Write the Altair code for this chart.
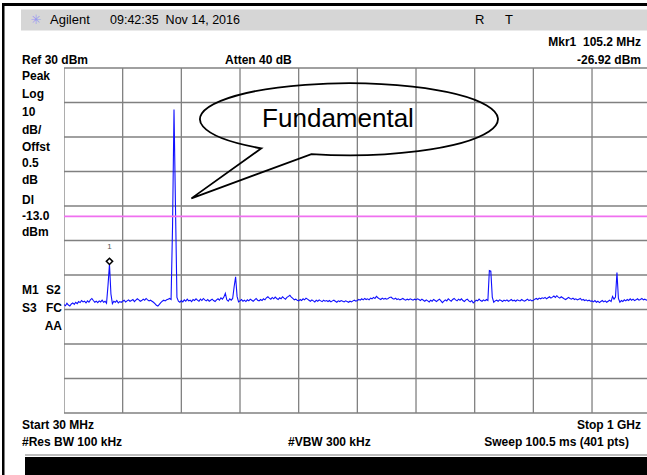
import altair as alt
import pandas as pd

# ---------------- data ----------------
START_MHZ = 30.0
STOP_MHZ = 1000.0
N_PTS = 401

trace_dbm = [
    # i0-19
    -38.6, -38.9, -38.2, -38.7, -39.0, -38.4, -38.1, -38.5, -37.9, -38.3,
    -37.7, -38.0, -37.4, -37.8, -37.6, -38.1, -37.5, -37.9, -37.2, -36.8,
    # i20-39 (marker 1 at i31)
    -37.4, -37.9, -37.6, -38.0, -37.5, -37.8, -37.3, -37.9, -37.6, -38.2,
    -33.0, -26.92, -35.5, -38.3, -37.6, -37.9, -37.4, -38.1, -37.7, -37.9,
    # i40-59
    -37.6, -37.3, -37.8, -37.5, -37.2, -37.6, -37.4, -37.1, -37.7, -37.3,
    -36.9, -37.2, -37.6, -37.4, -37.0, -37.3, -36.8, -37.2, -37.5, -37.3,
    # i60-79 (fundamental at i75)
    -37.6, -37.9, -38.3, -38.8, -39.0, -38.5, -38.0, -37.6, -37.3, -37.5,
    -37.2, -37.0, -36.8, -37.1, -16.0, 18.0, -10.0, -36.5, -37.6, -37.9,
    # i80-99
    -37.4, -37.8, -37.2, -37.6, -37.0, -37.5, -37.3, -37.7, -37.1, -37.4,
    -36.9, -37.3, -37.6, -37.0, -37.4, -36.8, -37.2, -37.5, -37.1, -37.6,
    # i100-119 (spur at i117)
    -37.3, -37.0, -37.4, -37.7, -37.2, -36.9, -37.3, -36.6, -37.0, -36.4,
    -35.3, -37.2, -37.6, -36.9, -37.3, -36.8, -33.4, -30.5, -36.2, -37.8,
    # i120-139
    -37.5, -37.1, -37.6, -37.3, -37.7, -37.2, -37.5, -37.0, -37.3, -37.6,
    -37.2, -36.8, -37.3, -37.5, -37.1, -37.4, -36.9, -37.2, -36.6, -36.3,
    # i140-159
    -36.7, -37.0, -36.5, -36.9, -36.4, -36.8, -37.1, -36.6, -36.9, -36.3,
    -36.7, -37.0, -36.5, -36.2, -35.9, -36.4, -36.8, -37.2, -37.0, -37.3,
    # i160-179
    -37.5, -37.1, -37.4, -36.9, -37.2, -36.7, -37.0, -37.3, -37.6, -37.2,
    -37.5, -37.8, -37.3, -37.6, -37.2, -37.5, -37.7, -37.3, -37.6, -37.4,
    # i180-199
    -37.7, -37.4, -37.8, -37.5, -37.3, -37.6, -37.9, -37.5, -37.7, -37.4,
    -37.6, -37.8, -37.5, -37.7, -37.9, -37.6, -37.8, -37.5, -37.3, -37.6,
    # i200-219
    -37.4, -37.1, -37.3, -36.9, -37.2, -36.8, -37.1, -36.9, -37.2, -36.7,
    -36.9, -36.5, -36.8, -36.2, -36.6, -36.9, -37.1, -36.7, -37.0, -36.8,
    # i220-239
    -37.0, -36.8, -36.5, -36.4, -36.8, -37.0, -36.7, -37.1, -36.9, -37.2,
    -37.0, -36.8, -37.1, -37.3, -37.0, -37.2, -36.9, -37.1, -37.3, -37.0,
    # i240-259
    -37.2, -36.9, -37.1, -37.4, -37.0, -37.3, -37.6, -37.2, -37.5, -37.8,
    -37.3, -37.6, -37.1, -37.4, -37.7, -37.3, -37.0, -37.5, -38.0, -37.6,
    # i260-279
    -37.2, -37.5, -36.9, -37.3, -37.6, -37.1, -36.8, -37.2, -37.5, -37.0,
    -37.3, -36.9, -37.4, -37.7, -37.2, -37.0, -37.5, -37.8, -37.4, -38.1,
    # i280-299 (spur at i290-291)
    -37.7, -37.3, -37.5, -37.0, -37.4, -37.6, -37.2, -37.5, -37.1, -37.4,
    -28.7, -28.9, -36.4, -37.9, -37.5, -37.3, -37.6, -37.2, -37.4, -37.7,
    # i300-319
    -37.3, -37.5, -37.2, -37.6, -37.4, -37.1, -37.5, -37.3, -37.6, -37.2,
    -37.4, -37.5, -37.1, -37.4, -37.6, -37.3, -37.0, -37.4, -37.2, -37.5,
    # i320-339
    -37.3, -37.0, -36.8, -37.1, -36.7, -36.9, -36.6, -36.8, -36.5, -36.9,
    -36.6, -36.3, -36.7, -36.4, -36.1, -36.5, -36.0, -36.4, -36.7, -36.3,
    # i340-359
    -36.6, -36.9, -37.1, -36.8, -36.5, -36.8, -37.0, -36.7, -37.1, -36.9,
    -37.2, -37.0, -36.8, -37.3, -37.1, -37.4, -37.2, -37.5, -37.3, -37.6,
    # i360-379 (spur at i377)
    -37.5, -37.8, -37.4, -37.9, -37.6, -38.0, -37.7, -37.4, -37.8, -37.5,
    -37.9, -37.6, -37.3, -37.7, -36.2, -37.0, -36.4, -29.3, -36.8, -37.9,
    # i380-400
    -37.4, -37.7, -37.2, -37.5, -37.1, -37.4, -36.9, -37.3, -37.0, -37.4,
    -37.2, -36.9, -37.3, -37.1, -36.8, -37.2, -37.0, -37.3, -37.1, -37.4,
    -37.2,
]

freq_ticks = [30, 127, 224, 321, 418, 515, 612, 709, 806, 903, 1000]
level_ticks = [30, 20, 10, 0, -10, -20, -30, -40, -50, -60, -70]
marker_freq = [105.2]
marker_level = [-26.92]
display_line = [-13.0]
callout_text = ["Fundamental"]
callout_at = [504.0, 15.2]      # centre of the speech balloon (MHz, dBm)
callout_text_at = [483.0, 13.0]

# ---------------- layout ----------------
PL, PT = 64, 68            # plot area origin in the page
W, H = 583, 345            # plot area size (right edge cropped like the screenshot)
X_VIEW_MAX = 993.9
FONT = "Liberation Sans"
NB = "\u00a0"
GRID = "#808080"

freq_mhz = [START_MHZ + i * (STOP_MHZ - START_MHZ) / (N_PTS - 1) for i in range(N_PTS)]
df = pd.DataFrame({"f": freq_mhz, "dbm": trace_dbm})
one = pd.DataFrame({"a": [0]})

xs = alt.Scale(domain=[START_MHZ, X_VIEW_MAX], nice=False, zero=False)
ys = alt.Scale(domain=[-70, 30], nice=False, zero=False)


def X(field):
    return alt.X(field, scale=xs, axis=None)


def Y(field):
    return alt.Y(field, scale=ys, axis=None)


def label(text, x, y, align="left", size=12, weight="bold", color="black", font=FONT,
          baseline="middle"):
    return alt.Chart(pd.DataFrame({"t": [text]})).mark_text(
        align=align, baseline=baseline, fontSize=size, fontWeight=weight,
        font=font, color=color
    ).encode(text="t:N", x=alt.value(x - PL), y=alt.value(y - PT))


def box(x1, y1, x2, y2, color):
    return alt.Chart(one).mark_rect(color=color).encode(
        x=alt.value(x1 - PL), x2=alt.value(x2 - PL),
        y=alt.value(y1 - PT), y2=alt.value(y2 - PT))


vgrid = alt.Chart(pd.DataFrame({"f": freq_ticks})).mark_rule(
    color=GRID, strokeWidth=1.3, clip=True).encode(x=X("f:Q"))
hgrid = alt.Chart(pd.DataFrame({"v": level_ticks})).mark_rule(
    color=GRID, strokeWidth=1.3, clip=False).encode(y=Y("v:Q"))

trace = alt.Chart(df).mark_line(color="#1010ff", strokeWidth=1.1, clip=True).encode(
    x=X("f:Q"), y=Y("dbm:Q"))

dl = alt.Chart(pd.DataFrame({"v": display_line})).mark_rule(
    color="#f070f0", strokeWidth=1.6).encode(y=Y("v:Q"))

mk = alt.Chart(pd.DataFrame({"f": marker_freq, "v": marker_level})).mark_point(
    shape="diamond", filled=True, fill="white", stroke="black", strokeWidth=1.5,
    size=40, opacity=1, yOffset=-3).encode(x=X("f:Q"), y=Y("v:Q"))

mk_lbl = alt.Chart(pd.DataFrame({"f": marker_freq, "v": marker_level, "t": ["1"]})).mark_text(
    fontSize=8, font=FONT, color="#555555", yOffset=-17).encode(
    x=X("f:Q"), y=Y("v:Q"), text="t:N")

# speech balloon: ellipse with a tail, as a custom symbol path (unit = half width)
BALLOON = ("M-0.2638,0.2349A1,0.2416,0,1,0,-0.5993,0.1966"
           "L-1.0691,0.5322Z")
balloon = alt.Chart(pd.DataFrame({"f": [callout_at[0]], "v": [callout_at[1]]})).mark_point(
    shape=BALLOON, size=298 ** 2, filled=False, stroke="black", strokeWidth=1.8,
    opacity=1, strokeOpacity=1).encode(x=X("f:Q"), y=Y("v:Q"))

balloon_txt = alt.Chart(pd.DataFrame({"f": [callout_text_at[0]], "v": [callout_text_at[1]],
                                      "t": callout_text})).mark_text(
    fontSize=26, font=FONT, color="black", baseline="alphabetic").encode(
    x=X("f:Q"), y=Y("v:Q"), text="t:N")

layers = [
    # instrument frame
    box(2, 3, 647, 6, "black"),
    box(2, 3, 4.5, 475, "black"),
    box(21, 9.5, 647, 30.5, "#d6d6d6"),
    box(25, 454, 647, 456, "#bdbdbd"),
    box(25, 457, 647, 475, "black"),
    vgrid, hgrid,
    trace, dl, mk, mk_lbl, balloon, balloon_txt,
    # header
    label("\u2733", 36, 20, align="center", size=13, weight="normal", color="#9a9af0",
          font="DejaVu Sans"),
    label("Agilent", 50, 20, size=13, weight="normal"),
    label("09:42:35" + NB + NB + "Nov 14, 2016", 110, 20, size=12.5, weight="normal"),
    label("R", 475, 20, size=13, weight="normal"),
    label("T", 505, 20, size=13, weight="normal"),
    # top annotations
    label("Mkr1" + NB + NB + "105.2 MHz", 641, 42, align="right"),
    label("Ref 30 dBm", 22, 60),
    label("Atten 40 dB", 225, 60),
    label("-26.92 dBm", 641, 60, align="right"),
    # left column
    label("Peak", 22, 76),
    label("Log", 22, 94),
    label("10", 22, 112),
    label("dB/", 22, 129.5),
    label("Offst", 22, 146.5),
    label("0.5", 22, 163),
    label("dB", 22, 179.5),
    label("Dl", 22, 200),
    label("-13.0", 22, 216),
    label("dBm", 22, 232),
    label("M1", 22, 290),
    label("S2", 46, 290),
    label("S3", 22, 307.5),
    label("FC", 46, 307.5),
    label("AA", 62, 325.5, align="right"),
    # bottom annotations
    label("Start 30 MHz", 22, 425),
    label("Stop 1 GHz", 641, 425, align="right"),
    label("#Res BW 100 kHz", 22, 442),
    label("#VBW 300 kHz", 288, 442),
    label("Sweep 100.5 ms (401 pts)", 629, 442, align="right"),
]

chart = alt.layer(*layers).properties(
    width=W, height=H, autosize="none",
    padding={"left": PL, "top": PT, "right": 0, "bottom": 475 - PT - H},
    background="white",
).configure_view(stroke=None)

chart.save("out.html", embed_options={"renderer": "svg", "actions": False})
